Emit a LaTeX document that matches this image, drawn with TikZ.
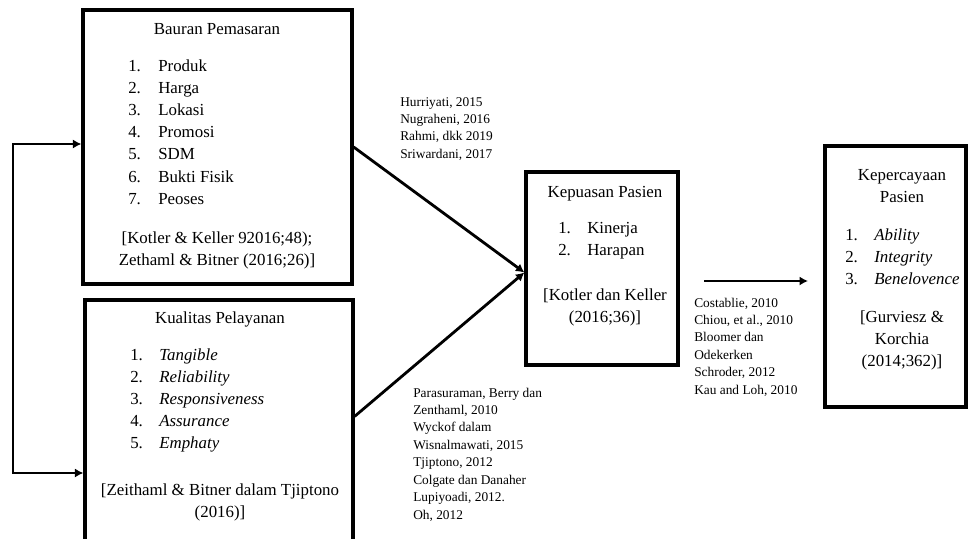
\documentclass[tikz,border=0pt]{standalone}
\usepackage{fontspec}
\setmainfont{Liberation Serif}
\usetikzlibrary{arrows.meta,positioning,fit,calc}

\begin{document}
\begin{tikzpicture}[
  x=0.025cm, y=-0.025cm,
  >={Latex[length=6pt,width=6.5pt]},
  box/.style={draw, line width=2.3pt, inner sep=0pt},
  flow/.style={->, line width=2pt},
  txt/.style={font=\fontsize{12}{15.8}\selectfont, inner sep=0pt},
  note/.style={font=\fontsize{9.5}{12.4}\selectfont, inner sep=0pt}
]
\useasboundingbox (0,0) rectangle (968,539);
\clip (0,0) rectangle (968,539);

% boxes
\node[box, fit={(83,10) (352,284)}] (bauran) {};
\node[box, fit={(85,300) (353,580)}] (kualitas) {};
\node[box, fit={(526,172) (678,365)}] (kepuasan) {};
\node[box, fit={(825,146) (966,407)}] (kepercayaan) {};

% Bauran Pemasaran
\node[txt, anchor=base] (bauranTitle) at (217,34) {Bauran Pemasaran};
\node[txt, anchor=base west] (bauranList) at (128,71) {\begin{tabular}[t]{@{}p{0.75cm}@{}l@{}}
1.&Produk\\2.&Harga\\3.&Lokasi\\4.&Promosi\\5.&SDM\\6.&Bukti Fisik\\7.&Peoses\end{tabular}};
\node[txt, anchor=base] (bauranRef) at (217,243) {\begin{tabular}[t]{@{}c@{}}
{[}Kotler \& Keller 92016;48);\\Zethaml \& Bitner (2016;26)]\end{tabular}};

% Kualitas Pelayanan
\node[txt, anchor=base] (kualitasTitle) at (220,323) {Kualitas Pelayanan};
\node[txt, anchor=base west] (kualitasList) at (130,360) {\begin{tabular}[t]{@{}p{0.725cm}@{}l@{}}
1.&\textit{Tangible}\\2.&\textit{Reliability}\\3.&\textit{Responsiveness}\\4.&\textit{Assurance}\\5.&\textit{Emphaty}\end{tabular}};
\node[txt, anchor=base] (kualitasRef) at (220,495) {\begin{tabular}[t]{@{}c@{}}
{[}Zeithaml \& Bitner dalam Tjiptono\\(2016)]\end{tabular}};

% Kepuasan Pasien
\node[txt, anchor=base] (kepuasanTitle) at (605,197) {Kepuasan Pasien};
\node[txt, anchor=base west] (kepuasanList) at (558,233) {\begin{tabular}[t]{@{}p{0.725cm}@{}l@{}}
1.&Kinerja\\2.&Harapan\end{tabular}};
\node[txt, anchor=base] (kepuasanRef) at (605,300) {\begin{tabular}[t]{@{}c@{}}
{[}Kotler dan Keller\\(2016;36)]\end{tabular}};

% Kepercayaan Pasien
\node[txt, anchor=base] (kepercayaanTitle) at (902,180) {\begin{tabular}[t]{@{}c@{}}
Kepercayaan\\Pasien\end{tabular}};
\node[txt, anchor=base west] (kepercayaanList) at (845,240) {\begin{tabular}[t]{@{}p{0.725cm}@{}l@{}}
1.&\textit{Ability}\\2.&\textit{Integrity}\\3.&\textit{Benelovence}\end{tabular}};
\node[txt, anchor=base] (kepercayaanRef) at (902,322) {\begin{tabular}[t]{@{}c@{}}
{[}Gurviesz \&\\Korchia\\(2014;362)]\end{tabular}};

% sources
\node[note, anchor=base west] (noteBauran) at (400,106) {\begin{tabular}[t]{@{}l@{}}
Hurriyati, 2015\\Nugraheni, 2016\\Rahmi, dkk 2019\\Sriwardani, 2017\end{tabular}};
\node[note, anchor=base west] (noteKualitas) at (413,397) {\begin{tabular}[t]{@{}l@{}}
Parasuraman, Berry dan\\Zenthaml, 2010\\Wyckof dalam\\Wisnalmawati, 2015\\Tjiptono, 2012\\Colgate dan Danaher\\Lupiyoadi, 2012.\\Oh, 2012\end{tabular}};
\node[note, anchor=base west] (noteKepuasan) at (694,307) {\begin{tabular}[t]{@{}l@{}}
Costablie, 2010\\Chiou, et al., 2010\\Bloomer dan\\Odekerken\\Schroder, 2012\\Kau and Loh, 2010\end{tabular}};

% connectors
\coordinate (kualitasOut) at ($(kualitas.north east)+(0,118)$);
\coordinate (kepuasanIn) at ($(kepuasan.west)+(0,4)$);
\draw[flow] (bauran.east) -- (kepuasanIn);
\draw[flow] (kualitasOut) -- (kepuasanIn);

\coordinate (satOut) at (704,281);
\coordinate (trustIn) at (808,281);
\draw[flow] (satOut) -- (trustIn);

% feedback loop on the left
\coordinate (loopTop) at (13,144);
\coordinate (loopBot) at (13,473);
\draw[flow, <->] (loopTop -| bauran.west) -- (loopTop) -- (loopBot) -- (loopBot -| kualitas.west);

\end{tikzpicture}
\end{document}
